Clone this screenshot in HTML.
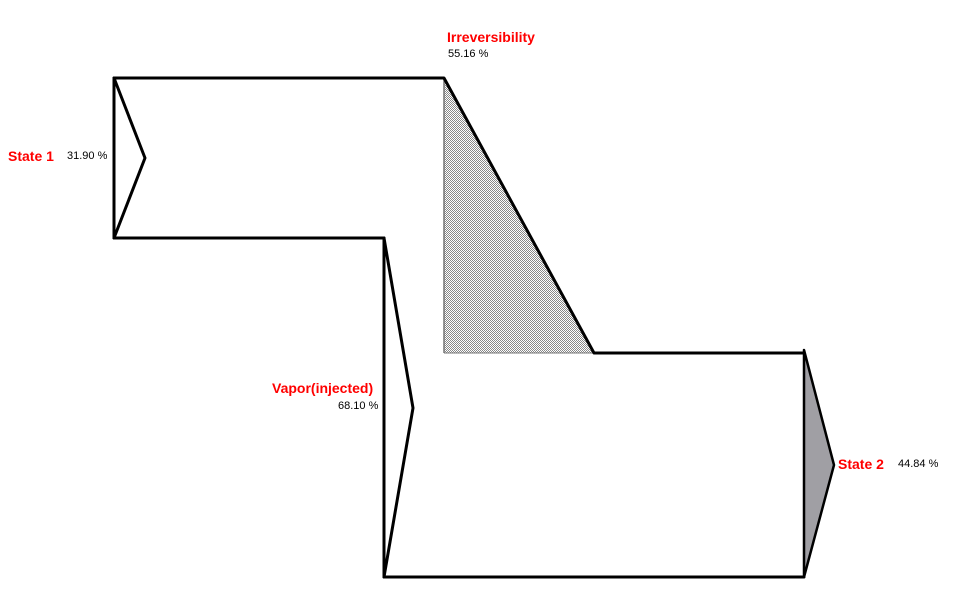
<!DOCTYPE html>
<html><head><meta charset="utf-8"><style>
html,body{margin:0;padding:0;background:#fff;width:963px;height:602px;overflow:hidden}
svg{display:block}
.r{font-family:"Liberation Sans",sans-serif;font-weight:bold;font-size:14px;fill:#ff0000}
.p{font-family:"Liberation Sans",sans-serif;font-size:11px;fill:#000}
</style></head><body>
<svg width="963" height="602" viewBox="0 0 963 602" xmlns="http://www.w3.org/2000/svg">
<defs>
<pattern id="h" width="2" height="2" patternUnits="userSpaceOnUse">
<rect width="2" height="2" fill="#fff"/><rect width="1" height="1" fill="#888"/><rect x="1" y="1" width="1" height="1" fill="#888"/>
</pattern>
</defs>
<polygon points="444,78 444,353 594,353" fill="url(#h)"/>
<line x1="444" y1="78" x2="444" y2="353" stroke="#777" stroke-width="1.5"/>
<line x1="444" y1="353" x2="594" y2="353" stroke="#777" stroke-width="1"/>
<polygon points="804,350 834,465 804,577" fill="#a09fa4" stroke="#000" stroke-width="2.5" stroke-linejoin="round"/>
<g fill="none" stroke="#000" stroke-width="3" stroke-linecap="round" stroke-linejoin="round">
<polyline points="114,78 444,78 594,353 804,353"/>
<line x1="114" y1="78" x2="114" y2="238"/>
<polyline points="114,78 145,158 114,238"/>
<line x1="114" y1="238" x2="384" y2="238"/>
<line x1="384" y1="238" x2="384" y2="577"/>
<polyline points="384,238 413,408 384,577"/>
<line x1="384" y1="577" x2="804" y2="577"/>
</g>
<text class="r" x="447" y="42">Irreversibility</text>
<text class="p" x="448" y="57">55.16 %</text>
<text class="r" x="8" y="161">State 1</text>
<text class="p" x="67" y="159">31.90 %</text>
<text class="r" x="272" y="393">Vapor(injected)</text>
<text class="p" x="338" y="409">68.10 %</text>
<text class="r" x="838" y="469">State 2</text>
<text class="p" x="898" y="467">44.84 %</text>
</svg>
</body></html>
